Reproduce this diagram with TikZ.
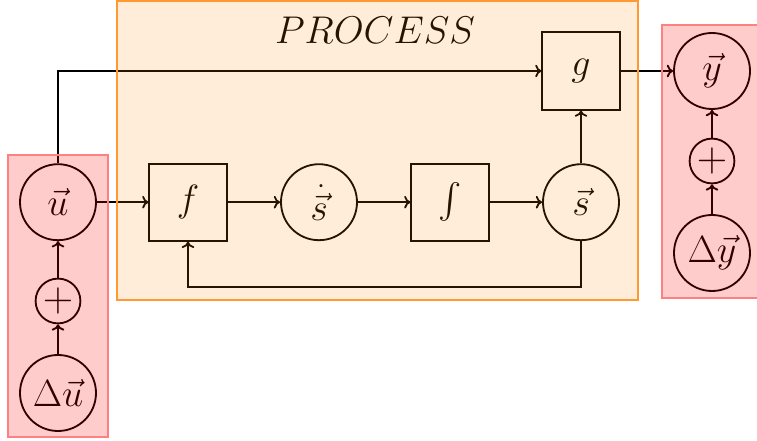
\RequirePackage{fix-cm}
\documentclass[tikz,border=0pt]{standalone}
\usepackage{amsmath}
\usetikzlibrary{positioning, calc, arrows.meta}

\begin{document}
\begin{tikzpicture}[
    >={To[length=4.5pt,width=9pt]},
    every node/.style={font=\fontsize{27}{29}\selectfont},
    block/.style={rectangle, draw, minimum size=1.93cm, line width=1.3pt},
    state/.style={circle, draw, minimum size=1.9cm, inner sep=0pt, line width=1.3pt},
    sum/.style={circle, draw, minimum size=1.12cm, inner sep=0pt, line width=1.3pt, font=\fontsize{30}{32}\selectfont},
    link/.style={->, line width=1.3pt},
    process/.style={draw=orange!80, line width=1.3pt, fill=orange, fill opacity=0.15},
    noise/.style={draw=red!50, line width=0.8pt, fill=red, fill opacity=0.2}
]
    \useasboundingbox (0,0) rectangle (18.925,11.025);

    % title of the process block
    \node[font=\fontsize{27.5}{30}\selectfont] (title) at (9.375, 10.275) {$PROCESS$};

    % input side
    \node[state] (u) at (1.45, 5.97) {$\vec{u}$};
    \node[sum] (uplus) at (1.45, 3.5) {$+$};
    \node[state] (du) at (1.45, 1.2) {$\Delta\vec{u}$};

    % process chain
    \node[block] (f) at (4.7, 5.97) {$f$};
    \node[state] (sdot) at (7.975, 5.97) {$\dot{\vec{s}}$};
    \node[block] (integ) at (11.25, 5.97) {$\int$};
    \node[state] (s) at (14.525, 5.97) {$\vec{s}$};
    \node[block] (g) at (14.525, 9.25) {$g$};

    % output side
    \node[state] (y) at (17.8, 9.25) {$\vec{y}$};
    \node[sum] (yplus) at (17.8, 7.0) {$+$};
    \node[state] (dy) at (17.8, 4.7) {$\Delta\vec{y}$};

    \draw[link] (du) -- (uplus);
    \draw[link] (uplus) -- (u);
    \draw[link] (u) -- (f);
    \draw[link] (f) -- (sdot);
    \draw[link] (sdot) -- (integ);
    \draw[link] (integ) -- (s);
    \draw[link] (s) -- (g);
    \draw[link] (s.south) -- ++(0,-1.15) -| (f.south);
    \draw[link] (u.north) |- (g.west);
    \draw[link] (g) -- (y);
    \draw[link] (dy) -- (yplus);
    \draw[link] (yplus) -- (y);

    % shaded regions on top
    \draw[process] (2.925, 3.525) rectangle (15.95, 11.0);
    \draw[noise] (0.2, 0.1) rectangle (2.7, 7.15);
    \draw[noise] (16.55, 3.575) rectangle (19.1, 10.4);
\end{tikzpicture}
\end{document}
